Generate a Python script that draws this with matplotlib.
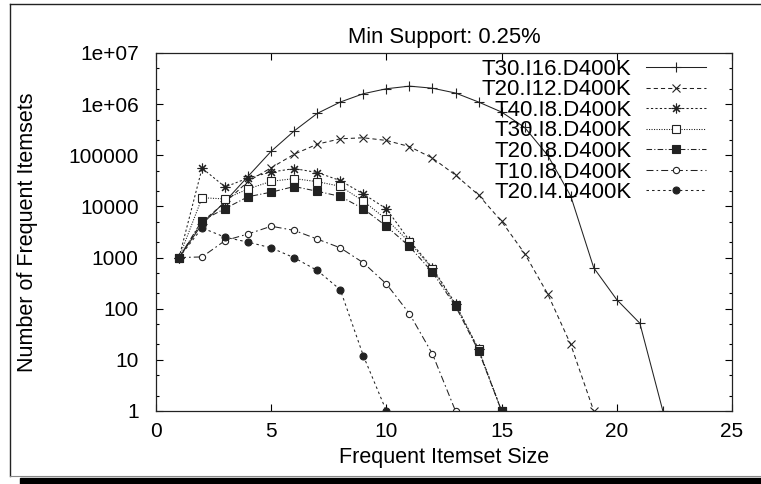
import numpy as np
import matplotlib
matplotlib.use('Agg')
import matplotlib.pyplot as plt
from matplotlib.patches import Rectangle
from matplotlib.lines import Line2D
from matplotlib.ticker import FixedLocator, FixedFormatter, LogLocator, NullFormatter

plt.rcParams['font.family'] = ['Liberation Sans', 'DejaVu Sans']
plt.rcParams['lines.scale_dashes'] = False

# frequent itemsets per size (log scale)
labels = ['T30.I16.D400K', 'T20.I12.D400K', 'T40.I8.D400K', 'T30.I8.D400K',
          'T20.I8.D400K', 'T10.I8.D400K', 'T20.I4.D400K']

t30_i16 = [1000, 4500, 12500, 39000, 120000, 300000, 660000, 1100000, 1600000,
           2000000, 2250000, 2050000, 1650000, 1100000, 700000, 350000, 100000,
           16000, 630, 150, 52, 1]
t20_i12 = [1000, 5000, 12000, 31000, 57000, 105000, 165000, 210000, 220000,
           195000, 148000, 88000, 41000, 16700, 5100, 1200, 195, 20, 1]
t40_i8 = [1000, 56000, 24000, 36000, 47000, 55000, 46000, 32000, 17500, 9000,
          2150, 630, 125, 16, 1]
t30_i8 = [1000, 14800, 14000, 22000, 31000, 35000, 30500, 24800, 12700, 5600,
          2000, 600, 120, 16, 1]
t20_i8 = [1000, 5300, 9100, 15500, 19000, 24500, 19800, 15700, 9000, 4100,
          1650, 515, 112, 15, 1]
t10_i8 = [1000, 1030, 2150, 2900, 4100, 3400, 2300, 1550, 790, 305, 80, 13, 1]
t20_i4 = [1000, 3800, 2500, 2000, 1550, 990, 560, 235, 12, 1]

series = [t30_i16, t20_i12, t40_i8, t30_i8, t20_i8, t10_i8, t20_i4]

ytick_vals = [1, 10, 100, 1000, 10000, 100000, 1e6, 1e7]
ytick_text = ['1', '10', '100', '1000', '10000', '100000', '1e+06', '1e+07']
xtick_vals = [0, 5, 10, 15, 20, 25]

# gnuplot-like styles
col = '#222222'
styles = [
    dict(linestyle='-', marker='+', markersize=7, mew=0.8),
    dict(linestyle=(0, (3.0, 2.2)), marker='x', markersize=5.5, mew=0.8),
    dict(linestyle=(0, (1.6, 1.6)), marker=(8, 2, 0), markersize=7, mew=0.8),
    dict(linestyle=(0, (0.8, 1.0)), marker='s', markersize=5.2, mew=0.8, mfc='white'),
    dict(linestyle=(0, (4.0, 1.6, 0.8, 1.6)), marker='s', markersize=5.7, mew=0.8, mfc=col),
    dict(linestyle=(0, (5.0, 2.2, 1.2, 2.2)), marker='o', markersize=4.5, mew=0.8, mfc='white'),
    dict(linestyle=(0, (1.8, 2.2)), marker='o', markersize=5, mew=0.8, mfc=col),
]

fig = plt.figure(figsize=(7.61, 4.84), dpi=100)
W, H = 761.0, 484.0

# page frame with drop shadow
fig.add_artist(Line2D([10 / W, 1.0], [1 - 4 / H, 1 - 4 / H], color='#222', lw=1.0, transform=fig.transFigure))
fig.add_artist(Line2D([10 / W, 10 / W], [1 - 4 / H, 1 - 476 / H], color='#222', lw=1.0, transform=fig.transFigure))
fig.add_artist(Line2D([10 / W, 1.0], [1 - 476 / H, 1 - 476 / H], color='#888', lw=0.8, transform=fig.transFigure))
fig.add_artist(Rectangle((20 / W, 0), 1 - 20 / W, 6 / H, color='black', transform=fig.transFigure))

ax = fig.add_axes([156 / W, 1 - 411 / H, 576 / W, 358 / H])

for vals, lab, st in zip(series, labels, styles):
    xs = np.arange(1, len(vals) + 1)
    ax.plot(xs, vals, color=col, lw=0.75, mec=col, label=lab, **st)

ax.set_yscale('log')
ax.set_xlim(0, 25)
ax.set_ylim(1, 1e7)
ax.xaxis.set_major_locator(FixedLocator(xtick_vals))
ax.yaxis.set_major_locator(FixedLocator(ytick_vals))
ax.yaxis.set_major_formatter(FixedFormatter(ytick_text))
ax.yaxis.set_minor_locator(LogLocator(base=10, subs=(2.0, 5.0), numticks=20))
ax.yaxis.set_minor_formatter(NullFormatter())

ax.tick_params(which='both', direction='in', top=True, right=True, labelsize=15, colors='black')
ax.tick_params(which='major', length=5, width=0.8)
ax.tick_params(which='minor', length=2.5, width=0.8)
ax.tick_params(axis='y', pad=12.5)
ax.tick_params(axis='x', pad=8)
for sp in ax.spines.values():
    sp.set_linewidth(0.9)
    sp.set_color('#222')

ax.set_title('Min Support: 0.25%', fontsize=15.8, pad=7.5)
ax.set_xlabel('Frequent Itemset Size', fontsize=15.5, labelpad=4)
ax.set_ylabel('Number of Frequent Itemsets', fontsize=15.5, labelpad=22)

ax.legend(loc='upper right', bbox_to_anchor=(0.955, 0.984), frameon=False, fontsize=16,
          markerfirst=False, numpoints=1, handlelength=2.7, handletextpad=0.65,
          labelspacing=-0.02, borderpad=0, borderaxespad=0)

fig.savefig('out.png', dpi=100)
